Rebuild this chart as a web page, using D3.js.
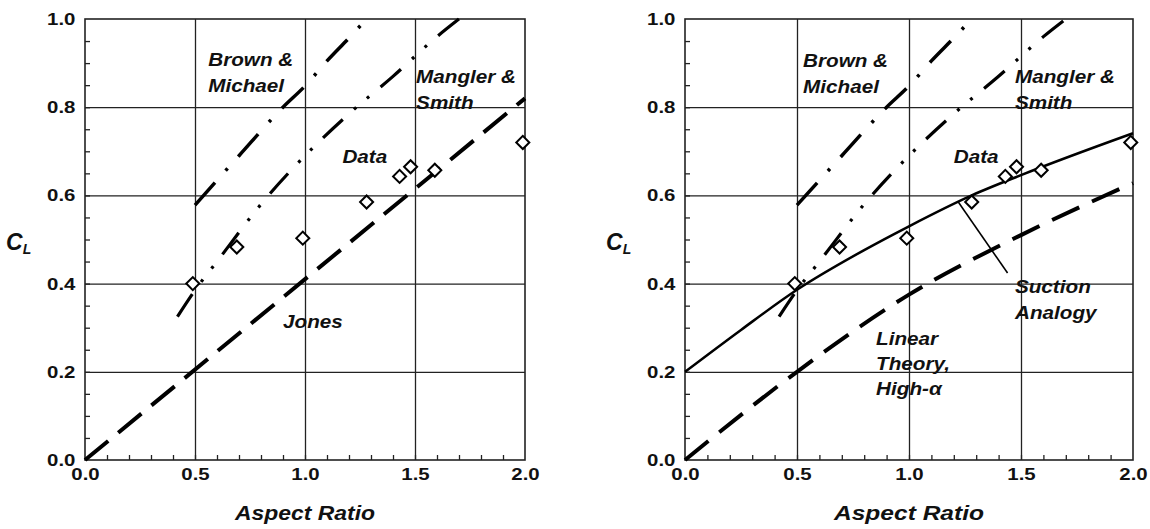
<!DOCTYPE html>
<html>
<head>
<meta charset="utf-8">
<script src="https://cdn.jsdelivr.net/npm/d3@7"></script>
<style>
  body { margin: 0; background: #fff; }
  text { font-family: "Liberation Sans", Arial, sans-serif; fill: #111; }
</style>
</head>
<body>
<svg id="chart" width="1150" height="529"></svg>
<script>
// measured data (aspect ratio, CL)
const dataAR = [0.49, 0.69, 0.99, 1.28, 1.43, 1.48, 1.59, 1.99];
const dataCL = [0.40, 0.483, 0.503, 0.585, 0.643, 0.665, 0.657, 0.72];

const jonesAR = [0, 2.0];
const jonesCL = [0, 0.82];

const brownAR = [0.5, 0.7, 0.9, 1.0, 1.1, 1.2, 1.28];
const brownCL = [0.578, 0.69, 0.80, 0.848, 0.905, 0.957, 1.0];

const manglerAR = [0.42, 0.5, 0.6, 0.8, 1.0, 1.2, 1.4, 1.6, 1.7];
const manglerCL = [0.325, 0.385, 0.45, 0.58, 0.69, 0.785, 0.87, 0.96, 1.0];

const suctionAR = [0, 0.25, 0.5, 0.8, 1.0, 1.28, 1.5, 2.0];
const suctionCL = [0.2, 0.295, 0.386, 0.476, 0.53, 0.60, 0.646, 0.741];

const linearAR = [0, 0.5, 1.0, 1.5, 2.0];
const linearCL = [0, 0.2, 0.375, 0.51, 0.628];

const majorX = [0, 0.5, 1.0, 1.5, 2.0];
const majorY = [0, 0.2, 0.4, 0.6, 0.8, 1.0];

const zip = (xs, ys) => xs.map((x, i) => [x, ys[i]]);

const svg = d3.select('#chart');

const styles = {
  jones:   { width: 4,   dash: '30,13' },
  linear:  { width: 4,   dash: '30,14' },
  brown:   { width: 3.5, dash: '30,16,3,16' },
  mangler: { width: 3.2, dash: '27,15,3,14,3,15' },
  suction: { width: 2.5, dash: null }
};

const panels = [
  {
    left: 85, width: 440, titleLen: 140,
    lines: [
      { pts: zip(jonesAR, jonesCL), st: styles.jones, curve: d3.curveLinear },
      { pts: zip(brownAR, brownCL), st: styles.brown, curve: d3.curveMonotoneX },
      { pts: zip(manglerAR, manglerCL), st: styles.mangler, curve: d3.curveMonotoneX }
    ],
    labels: [
      { x: 0.56, y: 0.893, lines: ['Brown &', 'Michael'] },
      { x: 1.505, y: 0.855, lines: ['Mangler &', 'Smith'] },
      { x: 1.17, y: 0.673, lines: ['Data'] },
      { x: 0.9, y: 0.30, lines: ['Jones'] }
    ]
  },
  {
    left: 685, width: 448, titleLen: 150,
    lines: [
      { pts: zip(linearAR, linearCL), st: styles.linear, curve: d3.curveMonotoneX },
      { pts: zip(brownAR, brownCL), st: styles.brown, curve: d3.curveMonotoneX },
      { pts: zip(manglerAR, manglerCL), st: styles.mangler, curve: d3.curveMonotoneX },
      { pts: zip(suctionAR, suctionCL), st: styles.suction, curve: d3.curveMonotoneX }
    ],
    pointer: [[1.22, 0.585], [1.44, 0.424]],
    labels: [
      { x: 0.527, y: 0.891, lines: ['Brown &', 'Michael'] },
      { x: 1.473, y: 0.855, lines: ['Mangler &', 'Smith'] },
      { x: 1.2, y: 0.673, lines: ['Data'] },
      { x: 1.473, y: 0.379, lines: ['Suction', 'Analogy'] },
      { x: 0.853, y: 0.261, lines: ['Linear', 'Theory,', 'High-\u03b1'], lh: 25 }
    ]
  }
];

panels.forEach(p => drawPanel(p));

function drawPanel(p) {
  const x = d3.scaleLinear().domain([0, 2]).range([p.left, p.left + p.width]);
  const y = d3.scaleLinear().domain([0, 1]).range([460, 19]);
  const h = 441;
  const g = svg.append('g');

  // grid
  g.append('g')
    .attr('transform', `translate(0,460)`)
    .call(d3.axisBottom(x).tickValues([0.5, 1.0, 1.5]).tickSize(-h).tickFormat(''))
    .call(s => s.select('.domain').remove())
    .selectAll('line').attr('stroke', '#222').attr('stroke-width', 1.3);
  g.append('g')
    .attr('transform', `translate(${p.left},0)`)
    .call(d3.axisLeft(y).tickValues([0.2, 0.4, 0.6, 0.8]).tickSize(-p.width).tickFormat(''))
    .call(s => s.select('.domain').remove())
    .selectAll('line').attr('stroke', '#222').attr('stroke-width', 1.3);

  // minor ticks
  g.append('g')
    .attr('transform', `translate(0,460)`)
    .call(d3.axisBottom(x).tickValues(d3.range(1, 20).map(d => d / 10)).tickSize(-5).tickFormat(''))
    .call(s => s.select('.domain').remove())
    .selectAll('line').attr('stroke', '#222').attr('stroke-width', 1.3);
  g.append('g')
    .attr('transform', `translate(${p.left},0)`)
    .call(d3.axisLeft(y).tickValues(d3.range(1, 20).map(d => d / 20)).tickSize(-5).tickFormat(''))
    .call(s => s.select('.domain').remove())
    .selectAll('line').attr('stroke', '#222').attr('stroke-width', 1.3);

  // border
  g.append('rect')
    .attr('x', p.left).attr('y', 19)
    .attr('width', p.width).attr('height', h)
    .attr('fill', 'none').attr('stroke', '#222').attr('stroke-width', 1.6);

  // tick labels
  const ax = g.append('g')
    .attr('transform', `translate(0,460)`)
    .call(d3.axisBottom(x).tickValues(majorX).tickSize(0).tickPadding(8).tickFormat(d3.format('.1f')));
  ax.select('.domain').remove();
  ax.selectAll('text')
    .attr('font-size', 17).attr('font-weight', 'bold').attr('fill', '#111')
    .attr('font-family', '"Liberation Sans", Arial, sans-serif')
    .attr('transform', 'scale(1.2,1)');

  const ay = g.append('g')
    .attr('transform', `translate(${p.left},0)`)
    .call(d3.axisLeft(y).tickValues(majorY).tickSize(0).tickPadding(8).tickFormat(d3.format('.1f')));
  ay.select('.domain').remove();
  ay.selectAll('text')
    .attr('font-size', 17).attr('font-weight', 'bold').attr('fill', '#111')
    .attr('font-family', '"Liberation Sans", Arial, sans-serif')
    .attr('transform', 'scale(1.2,1)');

  // axis titles
  g.append('text')
    .attr('x', x(1)).attr('y', 520)
    .attr('text-anchor', 'middle')
    .attr('font-size', 20).attr('font-weight', 'bold').attr('font-style', 'italic')
    .attr('textLength', p.titleLen).attr('lengthAdjust', 'spacingAndGlyphs')
    .text('Aspect Ratio');

  const cl = g.append('text')
    .attr('x', p.left - 79).attr('y', 250)
    .attr('font-size', 23).attr('font-weight', 'bold').attr('font-style', 'italic');
  cl.append('tspan').text('C');
  cl.append('tspan').attr('font-size', 14).attr('dy', 4).text('L');

  // curves
  p.lines.forEach(l => {
    g.append('path')
      .datum(l.pts)
      .attr('d', d3.line().x(d => x(d[0])).y(d => y(d[1])).curve(l.curve))
      .attr('fill', 'none')
      .attr('stroke', '#000')
      .attr('stroke-width', l.st.width)
      .attr('stroke-dasharray', l.st.dash);
  });

  if (p.pointer) {
    g.append('line')
      .attr('x1', x(p.pointer[0][0])).attr('y1', y(p.pointer[0][1]))
      .attr('x2', x(p.pointer[1][0])).attr('y2', y(p.pointer[1][1]))
      .attr('stroke', '#000').attr('stroke-width', 1.6);
  }

  // data diamonds
  g.selectAll('.pt')
    .data(zip(dataAR, dataCL))
    .join('path')
    .attr('class', 'pt')
    .attr('d', d3.symbol(d3.symbolSquare, 85))
    .attr('transform', d => `translate(${x(d[0])},${y(d[1])}) rotate(45)`)
    .attr('fill', '#fff')
    .attr('stroke', '#000')
    .attr('stroke-width', 2);

  // annotations
  p.labels.forEach(lb => {
    const t = g.append('text')
      .attr('transform', `translate(${x(lb.x)},${y(lb.y)}) scale(1.15,1)`)
      .attr('font-size', 18).attr('font-weight', 'bold').attr('font-style', 'italic');
    lb.lines.forEach((s, i) => {
      t.append('tspan').attr('x', 0).attr('y', i * (lb.lh || 26)).text(s);
    });
  });
}
</script>
</body>
</html>
